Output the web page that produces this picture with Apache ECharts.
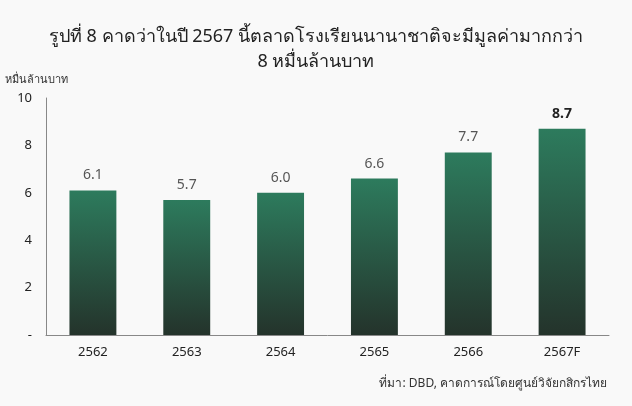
<!DOCTYPE html>
<html><head><meta charset="utf-8">
<script src="https://cdn.jsdelivr.net/npm/echarts@6/dist/echarts.min.js"></script>
<style>html,body{margin:0;padding:0;background:#f9f9f9}#c{width:632px;height:406px}</style>
</head><body><div id="c"></div>
<script>
const categories = ['2562','2563','2564','2565','2566','2567F'];
const values = [6.1, 5.7, 6.0, 6.6, 7.7, 8.7];
const yTicks = [0, 2, 4, 6, 8, 10];
const titleText = 'รูปที่ 8 คาดว่าในปี 2567 นี้ตลาดโรงเรียนนานาชาติจะมีมูลค่ามากกว่า\n8 หมื่นล้านบาท';
const unitText = 'หมื่นล้านบาท';
const sourceText = 'ที่มา: DBD, คาดการณ์โดยศูนย์วิจัยกสิกรไทย';
const font = 'Noto Sans, sans-serif';

const chart = echarts.init(document.getElementById('c'), null, {renderer:'canvas'});
chart.setOption({
  backgroundColor: '#f9f9f9',
  animation: false,
  title: [{
    text: titleText, left: 'center', top: 19,
    textStyle: {fontFamily: font, fontSize: 18, fontWeight: 'normal', color: '#222', lineHeight: 25}
  },{
    text: sourceText, right: 20, top: 373,
    textStyle: {fontFamily: font, fontSize: 12, fontWeight: 'normal', color: '#333'}
  },{
    text: unitText, left: 0, top: 69,
    textStyle: {fontFamily: font, fontSize: 11, fontWeight: 'normal', color: '#333'}
  }],
  grid: {left: 46, right: 23, top: 98, bottom: 71},
  xAxis: {
    type: 'category', data: categories,
    axisLine: {lineStyle: {color: '#888', width: 1}},
    axisTick: {show: false},
    axisLabel: {fontFamily: font, fontSize: 13, color: '#222', margin: 11}
  },
  yAxis: {
    type: 'value', min: yTicks[0], max: yTicks[yTicks.length - 1], interval: yTicks[1] - yTicks[0],
    axisLine: {show: true, lineStyle: {color: '#888', width: 1}},
    axisTick: {show: false},
    splitLine: {show: false},
    axisLabel: {fontFamily: font, fontSize: 13, color: '#222', margin: 14,
      formatter: v => v === 0 ? '-' : String(v)}
  },
  series: [{
    type: 'bar', data: values.map((v, i) => ({
      value: v,
      label: i === values.length - 1 ? {fontWeight: 'bold', color: '#222', fontSize: 14} : {}
    })),
    barWidth: '50%',
    itemStyle: {color: new echarts.graphic.LinearGradient(0,0,0,1,[
      {offset:0, color:'#2d7b5d'}, {offset:1, color:'#24332b'}])},
    label: {show: true, position: 'top', distance: 8, fontFamily: font, fontSize: 14, color: '#555',
      formatter: p => p.value.toFixed(1)}
  }]
});
</script></body></html>
